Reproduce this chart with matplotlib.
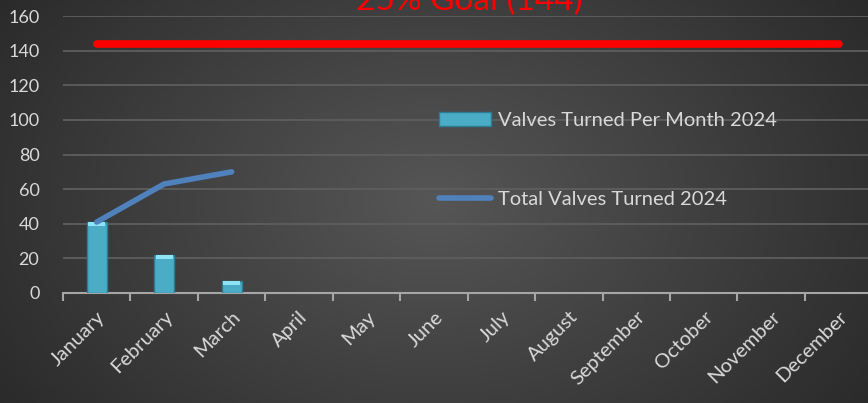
import matplotlib.pyplot as plt
import matplotlib.colors as mcolors
import numpy as np

plt.rcParams['font.family'] = ['Lato', 'DejaVu Sans']

months = ['January', 'February', 'March', 'April', 'May', 'June', 'July',
          'August', 'September', 'October', 'November', 'December']
per_month = [41, 22, 7]
total = [41, 63, 70]
goal = [144] * 12
goal_title = '25% Goal (144)'

fig = plt.figure(figsize=(8.68, 4.03), dpi=100)

# dark radial gradient background
bg = fig.add_axes([0, 0, 1, 1], zorder=-1)
gx, gy = np.meshgrid(np.linspace(-1, 1, 400), np.linspace(-1, 1, 200))
r = np.sqrt((gx * 0.9) ** 2 + (gy * 0.6) ** 2)
cmap = mcolors.LinearSegmentedColormap.from_list('bg', ['#565656', '#2a2a2a'])
bg.imshow(r, cmap=cmap, aspect='auto', extent=[0, 1, 0, 1], vmin=0, vmax=1.1)
bg.axis('off')

ax = fig.add_axes([0.0726, 0.273, 0.9324, 0.687])
ax.patch.set_alpha(0)

x = np.arange(len(months))
bars = ax.bar(x[:len(per_month)], per_month, width=0.3, color='#4bacc6',
              edgecolor='#2c7d94', linewidth=1, zorder=3,
              label='Valves Turned Per Month 2024')
# lighter bevel on top of each bar
for b in bars:
    ax.bar(b.get_x() + b.get_width() / 2, 2.5, bottom=b.get_height() - 2.5,
           width=b.get_width() * 0.85, color='#8ee3f5', linewidth=0, zorder=3.5)
line, = ax.plot(x[:len(total)], total, color='#4f81bd', lw=4,
                solid_capstyle='round', zorder=4, label='Total Valves Turned 2024')
ax.plot(x, goal, color='#ff0000', lw=5.5, solid_capstyle='round', zorder=4)

ax.set_xlim(-0.5, 11.5)
ax.set_ylim(0, 160)
ax.set_yticks(range(0, 161, 20))
ax.yaxis.grid(True, color='#5e5e5e', lw=1.3)
ax.set_axisbelow(True)

for s in ['top', 'right', 'left']:
    ax.spines[s].set_visible(False)
ax.spines['bottom'].set_color('#a6a6a6')
ax.spines['bottom'].set_linewidth(1.5)

ax.set_xticks(x)
ax.set_xticklabels(months, rotation=45, ha='right', rotation_mode='anchor',
                   fontsize=14.5, color='#d9d9d9')
ax.set_xticks(np.arange(-0.5, 12, 1), minor=True)
ax.tick_params(axis='x', which='major', length=0, pad=11)
ax.tick_params(axis='x', which='minor', length=6, width=1.5, color='#a6a6a6',
               direction='out')
ax.tick_params(axis='y', length=0, pad=17, labelsize=13, labelcolor='#d9d9d9')

fig.text(0.541, 0.975, goal_title, color='#ff0000', fontsize=24,
         ha='center', va='baseline')

ax.legend(handles=[bars, line], loc='upper left', bbox_to_anchor=(0.485, 0.768),
          bbox_transform=fig.transFigure, frameon=False, fontsize=14.5,
          labelcolor='#d9d9d9', handlelength=2.6, handletextpad=0.3,
          labelspacing=3.1)

fig.savefig('out.png', dpi=100)
